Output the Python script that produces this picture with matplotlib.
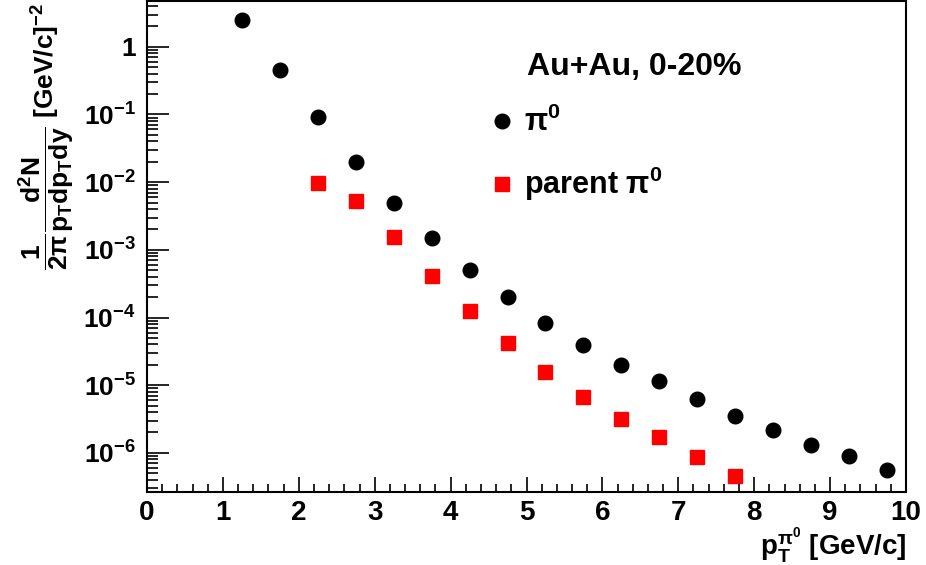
import numpy as np
import matplotlib
matplotlib.use('Agg')
import matplotlib.pyplot as plt
from matplotlib.ticker import FixedLocator, FuncFormatter, MultipleLocator, NullFormatter

# Data
pt_pi0 = [1.25, 1.75, 2.25, 2.75, 3.25, 3.75, 4.25, 4.75, 5.25, 5.75,
          6.25, 6.75, 7.25, 7.75, 8.25, 8.75, 9.25, 9.75]
yield_pi0 = [2.48, 0.448, 0.0925, 0.0198, 4.97e-3, 1.51e-3, 5.03e-4, 2.03e-4,
             8.4e-5, 3.93e-5, 1.99e-5, 1.15e-5, 6.25e-6, 3.55e-6, 2.15e-6,
             1.32e-6, 9.0e-7, 5.6e-7]
pt_parent = [2.25, 2.75, 3.25, 3.75, 4.25, 4.75, 5.25, 5.75, 6.25, 6.75, 7.25, 7.75]
yield_parent = [9.84e-3, 5.3e-3, 1.53e-3, 4.07e-4, 1.23e-4, 4.25e-5, 1.58e-5,
                6.76e-6, 3.2e-6, 1.71e-6, 8.7e-7, 4.57e-7]
decades = [-6, -5, -4, -3, -2, -1, 0]

plt.rcParams['font.family'] = ['Liberation Sans', 'DejaVu Sans']
plt.rcParams['font.weight'] = 'bold'
plt.rcParams['axes.labelweight'] = 'bold'
plt.rcParams['mathtext.fontset'] = 'custom'
plt.rcParams['mathtext.rm'] = 'Liberation Sans:bold'
plt.rcParams['mathtext.bf'] = 'Liberation Sans:bold'
plt.rcParams['mathtext.it'] = 'Liberation Sans:bold'
plt.rcParams['mathtext.default'] = 'bf'

fig = plt.figure(figsize=(9.26, 5.65), dpi=100)
ax = fig.add_axes([147/926, 73/565, 759/926, 491/565])

l1, = ax.plot(pt_pi0, yield_pi0, 'o', color='black', markersize=10.5, label=r'$\pi^0$')
l2, = ax.plot(pt_parent, yield_parent, 's', color='red', markersize=10,
              label=r'parent $\pi^0$')

ax.set_yscale('log')
ax.set_xlim(0, 10)
ax.set_ylim(2.64e-7, 4.75)

for s in ax.spines.values():
    s.set_linewidth(1.5)

ax.xaxis.set_major_locator(MultipleLocator(1))
ax.xaxis.set_minor_locator(MultipleLocator(0.2))
ax.yaxis.set_major_locator(FixedLocator([10.0 ** e for e in decades]))
minor = [m * 10.0 ** e for e in [-7] + decades for m in range(2, 10)]
ax.yaxis.set_minor_locator(FixedLocator([v for v in minor if 2.64e-7 < v < 4.75]))
ax.yaxis.set_minor_formatter(NullFormatter())


def fmt(v, pos):
    e = int(round(np.log10(v)))
    if e == 0:
        return '1'
    return r'$10^{%d}$' % e


ax.yaxis.set_major_formatter(FuncFormatter(fmt))
ax.tick_params(axis='x', which='major', direction='in', length=11, width=1.2,
               labelsize=20, pad=6, top=False)
ax.tick_params(axis='x', which='minor', direction='in', length=6, width=1.2, top=False)
ax.tick_params(axis='y', which='major', direction='in', length=16, width=1.2,
               labelsize=19, pad=8, right=False)
ax.tick_params(axis='y', which='minor', direction='in', length=8, width=1.2, right=False)

ax.set_xlabel(r'$p_T^{\pi^0}$ [GeV/c]', fontsize=20, loc='right', labelpad=0)
ax.set_ylabel(r'$\dfrac{1}{2\pi}\dfrac{d^2N}{p_T dp_T dy}$ [GeV/c]$^{-2}$',
              fontsize=19, loc='top')
ax.yaxis.set_label_coords(-0.093, 0.996)

ax.text(527/926, 1 - 67/565, 'Au+Au, 0-20%', transform=fig.transFigure,
        fontsize=23, fontweight='bold', va='center', ha='left')
ax.legend(handles=[l1, l2], loc='upper left', frameon=False, fontsize=22,
          bbox_to_anchor=(493/926, 1 - 107/565), bbox_transform=fig.transFigure,
          borderpad=0, borderaxespad=0, handlelength=0.6, handletextpad=0.42,
          labelspacing=0.88)

fig.savefig('out.png', dpi=100)
